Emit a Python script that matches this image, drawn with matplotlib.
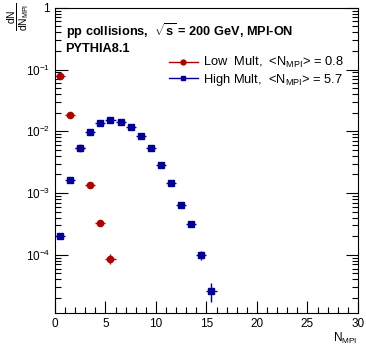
import numpy as np
import matplotlib
matplotlib.use("Agg")
import matplotlib.pyplot as plt
from matplotlib.lines import Line2D
from matplotlib.ticker import MultipleLocator, LogLocator, FuncFormatter, NullFormatter

plt.rcParams['font.family'] = ['Liberation Sans', 'DejaVu Sans']
plt.rcParams['mathtext.fontset'] = 'custom'
plt.rcParams['mathtext.rm'] = 'Liberation Sans'
plt.rcParams['mathtext.it'] = 'Liberation Sans:italic'
plt.rcParams['mathtext.bf'] = 'Liberation Sans:bold'

# data
low_x = [0.5, 1.5, 2.5, 3.5, 4.5, 5.5]
low_y = [0.078, 0.0185, 0.0053, 0.00135, 3.33e-4, 8.6e-5]
low_yerr = [0.001, 0.0003, 0.0001, 4e-5, 2e-5, 1.6e-5]
high_x = [0.5, 1.5, 2.5, 3.5, 4.5, 5.5, 6.5, 7.5, 8.5, 9.5, 10.5, 11.5, 12.5, 13.5, 14.5, 15.5]
high_y = [2.0e-4, 0.0016, 0.0053, 0.0098, 0.0138, 0.0151, 0.0143, 0.0119, 0.0083,
          0.0054, 0.0029, 0.00148, 6.5e-4, 3.2e-4, 1.0e-4, 2.6e-5]
high_yerr = [1.2e-5, 4e-5, 8e-5, 1.2e-4, 1.5e-4, 1.6e-4, 1.5e-4, 1.3e-4, 1e-4,
             7e-5, 5e-5, 3e-5, 2.2e-5, 1.6e-5, 1.6e-5, 9e-6]
xerr = 0.5
labels = [r'Low  Mult,  <N$_{\mathregular{MPI}}$> = 0.8',
          r'High Mult,  <N$_{\mathregular{MPI}}$> = 5.7']

red = '#b00000'
blue = '#000099'

fig = plt.figure(figsize=(3.66, 3.53), dpi=100)
ax = fig.add_axes([0.150, 0.113, 0.828, 0.865])

ax.errorbar(low_x, low_y, xerr=xerr, yerr=low_yerr, fmt='o', color=red, ms=4.5,
            elinewidth=1.0, capsize=0)
ax.errorbar(high_x, high_y, xerr=xerr, yerr=high_yerr, fmt='s', color=blue, ms=4.5,
            elinewidth=1.0, capsize=0)

ax.set_yscale('log')
ax.set_xlim(0, 30)
ax.set_ylim(1.14e-5, 1.0)

ax.xaxis.set_major_locator(MultipleLocator(5))
ax.xaxis.set_minor_locator(MultipleLocator(1))
ax.yaxis.set_major_locator(LogLocator(base=10, numticks=10))
ax.yaxis.set_minor_locator(LogLocator(base=10, subs=np.arange(2, 10), numticks=20))
ax.yaxis.set_minor_formatter(NullFormatter())

def yfmt(v, pos):
    e = int(round(np.log10(v)))
    if e == 0:
        return '1'
    return r'10$^{\mathregular{%d}}$' % e
ax.yaxis.set_major_formatter(FuncFormatter(yfmt))

ax.tick_params(which='both', direction='in', top=False, right=True, labelsize=8.5, width=0.8)
ax.tick_params(which='major', length=9)
ax.tick_params(which='minor', length=4.5)
for s in ax.spines.values():
    s.set_linewidth(0.8)

ax.set_xlabel(r'N$_{\mathregular{MPI}}$', fontsize=8.5, loc='right', labelpad=1)
fig.text(0.052, 0.992, r'$\frac{\mathregular{dN}}{\mathregular{dN_{MPI}}}$', rotation=90,
         fontsize=10.5, ha='center', va='top')

ax.text(0.035, 0.925, r'pp collisions,  $\mathbf{\sqrt{s}}$ = 200 GeV, MPI-ON', transform=ax.transAxes,
        fontsize=9.2, fontweight='bold', ha='left', va='center')
ax.text(0.035, 0.866, 'PYTHIA8.1', transform=ax.transAxes,
        fontsize=9.2, fontweight='bold', ha='left', va='center')

handles = [Line2D([], [], color=red, marker='o', ms=3.5, lw=1.0),
           Line2D([], [], color=blue, marker='s', ms=3.5, lw=1.0)]
ax.legend(handles, labels, loc='upper left', bbox_to_anchor=(0.375, 0.845), frameon=False,
          fontsize=9.3, handlelength=2.3, handletextpad=0.4, labelspacing=0.12,
          borderaxespad=0, borderpad=0)

fig.savefig('out.png', dpi=100)
